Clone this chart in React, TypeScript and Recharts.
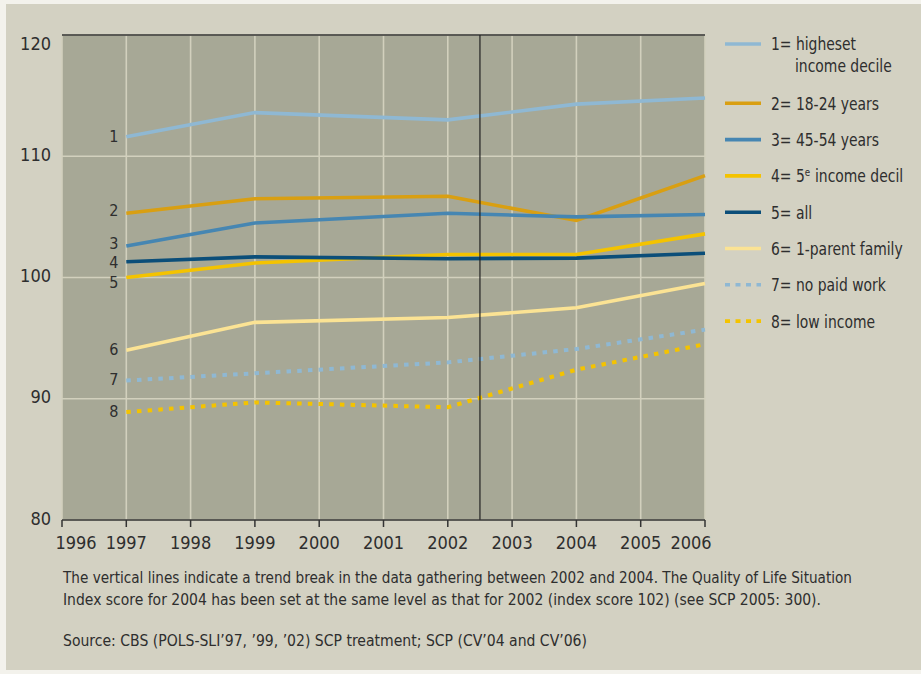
import React from 'react';
import { LineChart, Line, XAxis, YAxis, CartesianGrid, ReferenceLine, LabelList } from 'recharts';

// ---- data ----
const years = [1997, 1999, 2002, 2004, 2006];
const highestDecile = [111.6, 113.6, 113.0, 114.3, 114.8];
const age1824 = [105.3, 106.5, 106.7, 104.7, 108.4];
const age4554 = [102.6, 104.5, 105.3, 105.0, 105.2];
const fifthDecile = [100.0, 101.2, 101.9, 101.9, 103.6];
const allPeople = [101.3, 101.7, 101.55, 101.6, 102.0];
const oneParent = [94.0, 96.3, 96.7, 97.5, 99.5];
const noPaidWork = [91.5, 92.1, 93.0, 94.1, 95.7];
const lowIncome = [88.9, 89.7, 89.3, 92.4, 94.5];

const xTicks = [1996, 1997, 1998, 1999, 2000, 2001, 2002, 2003, 2004, 2005, 2006];
const yTicks = [80, 90, 100, 110, 120];
const trendBreak = 2002.5;

const legendLabels = [
  ['1= higheset', 'income decile'],
  ['2= 18-24 years'],
  ['3= 45-54 years'],
  ['4= 5\u1D49 income decil'],
  ['5= all'],
  ['6= 1-parent family'],
  ['7= no paid work'],
  ['8= low income'],
];
const leftLabels = ['1', '2', '3', '5', '4', '6', '7', '8'];

const captionLines = [
  'The vertical lines indicate a trend break in the data gathering between 2002 and 2004. The Quality of Life Situation',
  'Index score for 2004 has been set at the same level as that for 2002 (index score 102) (see SCP 2005: 300).',
  "Source: CBS (POLS-SLI\u201997, \u201999, \u201902) SCP treatment; SCP (CV\u201904 and CV\u201906)",
];

// ---- styles ----
const FONT = "'Liberation Sans Narrow', 'Arial Narrow', 'DejaVu Sans Condensed', sans-serif";
const TEXT = '#2e2e2e';
const LEGEND_SCALE = 0.86;
const captionWidths = [789, 758, 524];
const captionY = [582.5, 604.5, 646];

const series = [
  { key: 's1', values: highestDecile, color: '#8FB8D3', dash: undefined, labelDy: -1 },
  { key: 's2', values: age1824, color: '#D99F12', dash: undefined, labelDy: -3 },
  { key: 's3', values: age4554, color: '#4686B2', dash: undefined, labelDy: -2.5 },
  { key: 's4', values: fifthDecile, color: '#F4C300', dash: undefined, labelDy: 4.5 },
  { key: 's5', values: allPeople, color: '#0B4E79', dash: undefined, labelDy: 0.5 },
  { key: 's6', values: oneParent, color: '#FBE394', dash: undefined, labelDy: -1.5 },
  { key: 's7', values: noPaidWork, color: '#8FB8D3', dash: '4.5 6.2', labelDy: -1.5 },
  { key: 's8', values: lowIncome, color: '#F4C300', dash: '4.5 6.2', labelDy: -0.7 },
];

const data = years.map((year, i) => {
  const row: any = { year };
  series.forEach((s) => { row[s.key] = s.values[i]; });
  return row;
});

const YTick = (props: any) => {
  const { x, y, payload } = props;
  const extra = payload.value === 120 ? 10 : 0;
  return (
    <text x={x - 11} y={y + 4.5 + extra} textAnchor="end" fontFamily={FONT} fontSize={18} fill={TEXT}>
      {payload.value}
    </text>
  );
};

const XTick = (props: any) => {
  const { x, y, payload } = props;
  let dx = 0;
  if (payload.value === 1996) dx = 14;
  if (payload.value === 2006) dx = -14;
  return (
    <text x={x + dx} y={y + 13.5} textAnchor="middle" fontFamily={FONT} fontSize={18} fill={TEXT}>
      {payload.value}
    </text>
  );
};

const makeLeftLabel = (idx: number) => (props: any) => {
  const { x, y, index } = props;
  if (index !== 0) return null;
  return (
    <text x={x - 8} y={y + 5.8 + series[idx].labelDy} textAnchor="end" fontFamily={FONT} fontSize={16} fill={TEXT}>
      {leftLabels[idx]}
    </text>
  );
};

export default function App() {
  const rowY = (i: number) => (i === 0 ? 44 : 103.3 + (i - 1) * 36.3);
  return (
    <div style={{ position: 'absolute', left: 0, top: 0, width: 921, height: 674, background: '#F3F2EC', overflow: 'hidden' }}>
      <div style={{ position: 'absolute', left: 6, top: 4, width: 915, height: 666, background: '#D3D1C2' }} />
      <div style={{ position: 'absolute', left: 0, top: 0 }}>
        <LineChart width={921} height={560} data={data} margin={{ top: 35, right: 216, bottom: 10, left: 8 }}>
          <CartesianGrid fill="#A7A896" fillOpacity={1} stroke="#D2D0BD" strokeWidth={1.6} />
          <XAxis
            dataKey="year"
            type="number"
            domain={[1996, 2006]}
            ticks={xTicks}
            interval={0}
            height={30}
            tickSize={7}
            tickMargin={8}
            axisLine={{ stroke: '#333', strokeWidth: 1.5 }}
            tickLine={{ stroke: '#333', strokeWidth: 1.5 }}
            tick={<XTick />}
          />
          <YAxis
            type="number"
            domain={[80, 120]}
            ticks={yTicks}
            interval={0}
            width={54}
            tickSize={0}
            tickMargin={0}
            axisLine={false}
            tickLine={false}
            tick={<YTick />}
          />
          <ReferenceLine y={120} stroke="#333" strokeWidth={1.5} />
          {series.map((s, idx) => (
            <Line
              key={s.key}
              dataKey={s.key}
              type="linear"
              stroke={s.color}
              strokeWidth={s.dash ? 4 : 3.6}
              strokeDasharray={s.dash}
              dot={false}
              activeDot={false}
              isAnimationActive={false}
            >
              <LabelList dataKey={s.key} content={makeLeftLabel(idx)} />
            </Line>
          ))}
          <ReferenceLine x={trendBreak} stroke="#222" strokeWidth={1.2} />
        </LineChart>
      </div>
      <svg width={921} height={674} style={{ position: 'absolute', left: 0, top: 0 }}>
        {series.map((s, i) => (
          <g key={s.key}>
            <line x1={725} x2={761} y1={rowY(i)} y2={rowY(i)} stroke={s.color} strokeWidth={3.6} strokeDasharray={s.dash ? '5 5.5' : undefined} />
            {legendLabels[i].map((t, j) => (
              <text
                key={j}
                x={0}
                y={0}
                transform={`translate(${j === 0 ? 771 : 795},${rowY(i) + 6.4 + j * 22}) scale(${LEGEND_SCALE},1)`}
                fontFamily={FONT}
                fontSize={18}
                fill={TEXT}
              >
                {t}
              </text>
            ))}
          </g>
        ))}
        {captionLines.map((t, i) => (
          <text
            key={i}
            x={63}
            y={captionY[i]}
            fontFamily={FONT}
            fontSize={15.5}
            fill={TEXT}
            textLength={captionWidths[i]}
            lengthAdjust="spacingAndGlyphs"
          >
            {t}
          </text>
        ))}
      </svg>
    </div>
  );
}
